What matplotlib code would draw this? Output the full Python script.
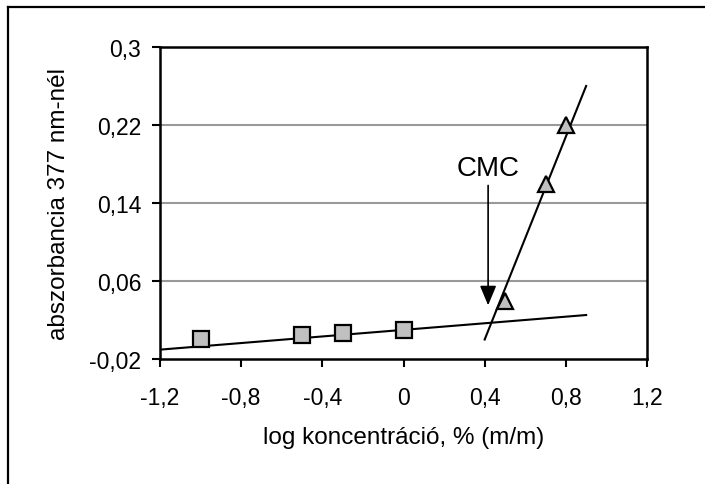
import matplotlib
matplotlib.use("Agg")
import matplotlib.pyplot as plt
from matplotlib.lines import Line2D

plt.rcParams['font.family'] = ['Liberation Sans', 'DejaVu Sans']

# data
square_x = [-1.0, -0.5, -0.3, 0.0]
square_y = [0.0005, 0.005, 0.0067, 0.0097]
triangle_x = [0.5, 0.7, 0.8]
triangle_y = [0.040, 0.160, 0.220]
fit_low_x = [-1.2, 0.9]
fit_low_y = [-0.0104, 0.0251]
fit_high_x = [0.4, 0.9]
fit_high_y = [0.0, 0.26]
arrow_x = 0.417
arrow_y_start = 0.158
arrow_y_end = 0.035
cmc_label = "CMC"
cmc_label_y = 0.176
xticks = [-1.2, -0.8, -0.4, 0.0, 0.4, 0.8, 1.2]
xtick_labels = ['-1,2', '-0,8', '-0,4', '0', '0,4', '0,8', '1,2']
yticks = [-0.02, 0.06, 0.14, 0.22, 0.3]
ytick_labels = ['-0,02', '0,06', '0,14', '0,22', '0,3']
xlabel = "log koncentráció, % (m/m)"
ylabel = "abszorbancia 377 nm-nél"

fig = plt.figure(figsize=(7.05, 4.85), dpi=100)
ax = fig.add_axes([160/705, 1-360/485, (647-160)/705, (360-48)/485])

for yv in yticks[1:-1]:
    ax.axhline(yv, color='#999999', lw=1.5, zorder=1)

ax.plot(fit_low_x, fit_low_y, color='black', lw=1.5, zorder=2)
ax.plot(fit_high_x, fit_high_y, color='black', lw=1.5, zorder=2)
ax.plot(square_x, square_y, ls='none', marker='s', ms=11.5, mfc='#c0c0c0',
        mec='black', mew=1.6, zorder=3)
ax.plot(triangle_x, triangle_y, ls='none', marker='^', ms=12, mfc='#c0c0c0',
        mec='black', mew=1.6, zorder=3)

ax.annotate('', xy=(arrow_x, arrow_y_end), xytext=(arrow_x, arrow_y_start),
            arrowprops=dict(arrowstyle='-|>,head_length=1.2,head_width=0.5',
                            mutation_scale=10, color='black', lw=1.2,
                            shrinkA=0, shrinkB=0), zorder=4)
ax.text(arrow_x, cmc_label_y, cmc_label, ha='center', va='center', fontsize=20)

ax.set_xlim(xticks[0], xticks[-1])
ax.set_ylim(yticks[0], yticks[-1])
ax.set_xticks(xticks)
ax.set_xticklabels(xtick_labels)
ax.set_yticks(yticks)
ax.set_yticklabels(ytick_labels)
ax.tick_params(axis='both', direction='out', length=5.5, width=1.5, labelsize=16.5,
               colors='black')
ax.tick_params(axis='x', pad=14)
ax.tick_params(axis='y', pad=8)
for s in ax.spines.values():
    s.set_linewidth(1.8)
    s.set_color('black')

ax.set_xlabel(xlabel, fontsize=17.5, labelpad=12)
ax.set_ylabel(ylabel, fontsize=17.5, labelpad=14)

# outer frame (left and top only)
fig.add_artist(Line2D([7.5/705, 7.5/705], [0, 1-7.5/485], color='black', lw=1.6,
                      transform=fig.transFigure))
fig.add_artist(Line2D([7.5/705, 1], [1-7.5/485, 1-7.5/485], color='black', lw=1.6,
                      transform=fig.transFigure))

fig.savefig('out.png', dpi=100)
